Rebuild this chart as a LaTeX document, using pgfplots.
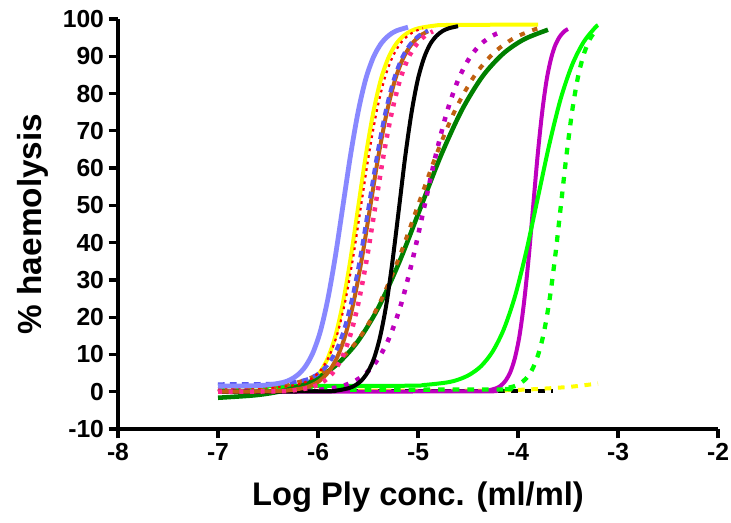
\documentclass[border=0pt]{standalone}
\usepackage{fontspec}
\setmainfont{Liberation Sans}
\usepackage{pgfplots}
\pgfplotsset{compat=1.18}
\definecolor{lav}{RGB}{136,136,255}
\definecolor{ylw}{RGB}{255,255,0}
\definecolor{rd}{RGB}{255,0,0}
\definecolor{brn}{RGB}{192,96,16}
\definecolor{blu}{RGB}{88,88,240}
\definecolor{pnk}{RGB}{255,40,140}
\definecolor{pur}{RGB}{190,0,190}
\definecolor{dgr}{RGB}{0,128,0}
\definecolor{lim}{RGB}{0,255,0}
\begin{document}
\begin{tikzpicture}
\begin{axis}[
  scale only axis,
  width=450pt, height=307.5pt,
  xmin=-8, xmax=-2, ymin=-10, ymax=100,
  axis lines*=left,
  axis line style={line width=2.8pt, black},
  xtick={-8,-7,-6,-5,-4,-3,-2},
  ytick={-10,0,10,20,30,40,50,60,70,80,90,100},
  tick align=outside, major tick length=7pt,
  tick style={line width=2.4pt, black},
  /pgf/number format/assume math mode=true,
  ticklabel style={font=\fontsize{18.5}{20}\selectfont\bfseries},
  xlabel={Log Ply conc. (ml/ml)},
  ylabel={\% haemolysis},
  every axis x label/.style={at={(rel axis cs:0.5,0)}, anchor=base, yshift=-57pt, font=\fontsize{24.5}{28}\selectfont\bfseries},
  every axis y label/.style={at={(rel axis cs:0,0.5)}, xshift=-64pt, anchor=center, rotate=90, font=\fontsize{25}{28}\selectfont\bfseries},
  every axis plot/.append style={line join=round},
]
\coordinate (bl) at (rel axis cs:0,0);
\coordinate (tr) at (rel axis cs:1,1);
% black dashed flat
\addplot[black, line width=3pt, dash pattern=on 5pt off 5pt] coordinates {(-7,0.3) (-3.65,0.3)};
% yellow dashed flat
\addplot[ylw, line width=3pt, dash pattern=on 5pt off 5pt, dash phase=5pt, smooth] coordinates {(-7,0.3) (-4.5,0.3) (-4,0.5) (-3.7,0.9) (-3.45,1.4) (-3.2,2.2)};
% yellow solid
\addplot[ylw, line width=3pt, smooth] coordinates {(-7,0) (-6.509,0.10) (-6.358,0.31) (-6.206,0.98) (-6.130,1.72) (-6.055,3.02) (-5.979,5.25) (-5.903,8.95) (-5.827,14.87) (-5.752,23.67) (-5.676,35.46) (-5.600,49.25) (-5.524,63.04) (-5.448,74.83) (-5.373,83.63) (-5.297,89.55) (-5.221,93.26) (-5.145,95.48) (-5.070,96.78) (-4.994,97.52) (-4.842,98.19) (-4.691,98.40) (-3.8,98.5)};
% magenta solid
\addplot[pur, line width=3pt, smooth] coordinates {(-7,0) (-4.395,0.10) (-4.305,0.31) (-4.214,0.98) (-4.168,1.72) (-4.123,3.02) (-4.077,5.25) (-4.032,8.95) (-3.986,14.87) (-3.941,23.67) (-3.895,35.46) (-3.850,49.25) (-3.805,63.04) (-3.759,74.83) (-3.714,83.63) (-3.668,89.55) (-3.623,93.26) (-3.577,95.48) (-3.532,96.78) (-3.5,97.3)};
% lime solid
\addplot[lim, line width=3pt, smooth] coordinates {(-7,1.5) (-5.164,1.60) (-4.936,1.82) (-4.709,2.50) (-4.595,3.27) (-4.482,4.61) (-4.368,6.90) (-4.255,10.73) (-4.141,16.83) (-4.027,25.89) (-3.914,38.04) (-3.800,52.25) (-3.686,66.46) (-3.573,78.61) (-3.459,87.67) (-3.345,93.77) (-3.232,97.60) (-3.2,98.36)};
% lime dashed
\addplot[lim, line width=3.2pt, dash pattern=on 5pt off 6pt, smooth] coordinates {(-7,0.5) (-4.268,0.60) (-4.151,0.81) (-4.035,1.49) (-3.977,2.24) (-3.919,3.55) (-3.861,5.80) (-3.803,9.55) (-3.744,15.52) (-3.686,24.41) (-3.628,36.32) (-3.570,50.25) (-3.512,64.18) (-3.454,76.09) (-3.396,84.98) (-3.337,90.95) (-3.279,94.71) (-3.221,96.94) (-3.2,97.5)};
% dark green solid
\addplot[dgr, line width=3.4pt, smooth] coordinates {(-7,-1.62) (-6.647,-0.99) (-6.438,-0.22) (-6.230,1.13) (-6.022,3.43) (-5.813,7.27) (-5.605,13.40) (-5.397,22.51) (-5.188,34.72) (-4.980,49.0) (-4.772,63.28) (-4.563,75.49) (-4.355,84.60) (-4.147,90.73) (-3.938,94.57) (-3.7,97.12)};
% brown dashed (right)
\addplot[brn, line width=3pt, dash pattern=on 4pt off 6pt, smooth] coordinates {(-7,0.23) (-6.515,0.99) (-6.326,1.75) (-6.136,3.07) (-5.947,5.33) (-5.758,9.09) (-5.568,15.10) (-5.379,24.03) (-5.189,36.00) (-5.0,50.0) (-4.811,64.00) (-4.621,75.97) (-4.432,84.90) (-4.242,90.91) (-4.053,94.68) (-3.864,96.93) (-3.75,97.8)};
% purple dotted
\addplot[pur, line width=3.4pt, dash pattern=on 3.5pt off 6pt, smooth] coordinates {(-7,0) (-6.304,0.10) (-6.076,0.31) (-5.849,0.98) (-5.735,1.72) (-5.622,3.02) (-5.508,5.25) (-5.395,8.95) (-5.281,14.87) (-5.167,23.67) (-5.054,35.46) (-4.940,49.25) (-4.826,63.04) (-4.713,74.83) (-4.599,83.63) (-4.485,89.55) (-4.372,93.26) (-4.258,95.48) (-4.2,96.2)};
% black solid
\addplot[black, line width=3pt, smooth] coordinates {(-7,0) (-5.940,0.10) (-5.815,0.31) (-5.690,0.98) (-5.628,1.72) (-5.565,3.02) (-5.503,5.25) (-5.440,8.95) (-5.378,14.87) (-5.315,23.67) (-5.253,35.46) (-5.190,49.25) (-5.128,63.04) (-5.065,74.83) (-5.003,83.63) (-4.940,89.55) (-4.878,93.26) (-4.815,95.48) (-4.753,96.78) (-4.690,97.52) (-4.6,98.07)};
% brown solid (cluster)
\addplot[brn, line width=3pt, smooth] coordinates {(-7,0) (-6.480,0.10) (-6.313,0.31) (-6.147,0.98) (-6.063,1.72) (-5.980,3.02) (-5.897,5.25) (-5.813,8.95) (-5.730,14.87) (-5.647,23.67) (-5.563,35.46) (-5.480,49.25) (-5.397,63.04) (-5.313,74.83) (-5.230,83.63) (-5.147,89.55) (-5.063,93.26) (-4.980,95.48) (-4.9,96.7)};
% blue dashed
\addplot[blu, line width=3pt, dash pattern=on 5pt off 4pt, smooth] coordinates {(-7,2.0) (-6.490,2.10) (-6.323,2.30) (-6.157,2.96) (-6.073,3.69) (-5.990,4.96) (-5.907,7.14) (-5.823,10.77) (-5.740,16.57) (-5.657,25.19) (-5.573,36.74) (-5.490,50.25) (-5.407,63.76) (-5.323,75.31) (-5.240,83.93) (-5.157,89.73) (-5.073,93.37) (-4.990,95.54) (-4.9,96.9)};
% pink dotted
\addplot[pnk, line width=3.4pt, dash pattern=on 3pt off 5pt, smooth] coordinates {(-7,0) (-6.430,0.10) (-6.263,0.31) (-6.097,0.98) (-6.013,1.72) (-5.930,3.02) (-5.847,5.25) (-5.763,8.95) (-5.680,14.87) (-5.597,23.67) (-5.513,35.46) (-5.430,49.25) (-5.347,63.04) (-5.263,74.83) (-5.180,83.63) (-5.097,89.55) (-5.013,93.26) (-4.930,95.48) (-4.85,96.7)};
% red dotted
\addplot[rd, line width=1.6pt, dash pattern=on 2pt off 3pt, smooth] coordinates {(-7,1.0) (-6.508,1.10) (-6.351,1.31) (-6.195,1.97) (-6.117,2.70) (-6.039,3.99) (-5.961,6.19) (-5.883,9.86) (-5.804,15.72) (-5.726,24.43) (-5.648,36.10) (-5.570,49.75) (-5.492,63.40) (-5.414,75.07) (-5.336,83.78) (-5.257,89.64) (-5.179,93.31) (-5.101,95.51) (-5.023,96.79) (-4.95,97.5)};
% lavender solid
\addplot[lav, line width=3.6pt, smooth] coordinates {(-7,1.5) (-6.659,1.60) (-6.508,1.81) (-6.356,2.46) (-6.280,3.19) (-6.205,4.47) (-6.129,6.67) (-6.053,10.32) (-5.977,16.15) (-5.902,24.81) (-5.826,36.42) (-5.750,50.0) (-5.674,63.58) (-5.598,75.19) (-5.523,83.85) (-5.447,89.68) (-5.371,93.34) (-5.295,95.52) (-5.220,96.80) (-5.1,97.8)};
\end{axis}
\pgfresetboundingbox
\path[use as bounding box] ([shift={(-88.5pt,-69.75pt)}]bl) rectangle ([shift={(9.75pt,14.25pt)}]tr);
\end{tikzpicture}
\end{document}
